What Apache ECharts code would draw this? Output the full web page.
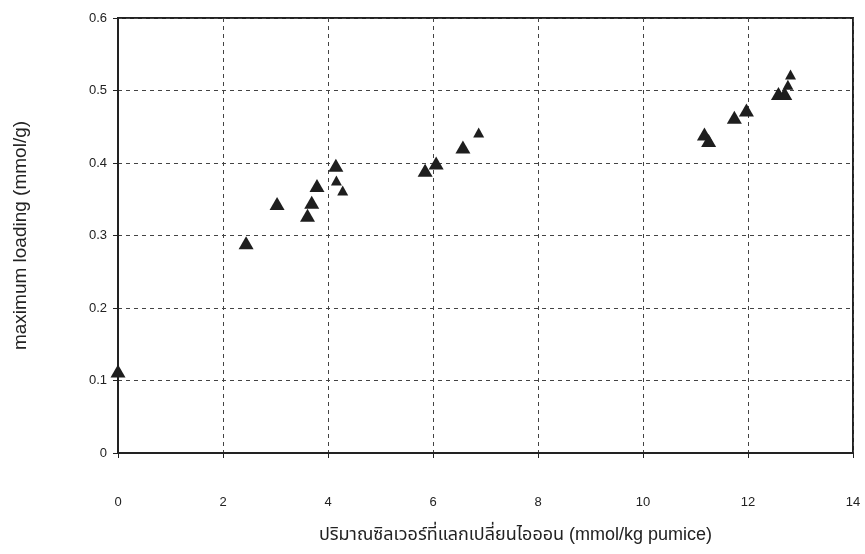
<!DOCTYPE html>
<html><head><meta charset="utf-8">
<script src="https://cdn.jsdelivr.net/npm/echarts@6/dist/echarts.min.js"></script>
<style>html,body{margin:0;padding:0;background:#fff}#c{width:865px;height:554px}</style>
</head><body><div id="c"></div>
<script>
// Silver exchanged (mmol/kg pumice) vs maximum loading (mmol/g)
const largeX = [0, 2.44, 3.03, 3.61, 3.69, 3.79, 4.15, 5.85, 6.06, 6.57, 11.17, 11.25, 11.74, 11.97, 12.58, 12.70];
const largeY = [0.113, 0.290, 0.344, 0.328, 0.346, 0.369, 0.397, 0.390, 0.400, 0.422, 0.440, 0.431, 0.463, 0.473, 0.496, 0.496];
const smallX = [4.16, 4.28, 6.87, 12.76, 12.81];
const smallY = [0.376, 0.362, 0.442, 0.508, 0.522];
const xTicks = [0, 2, 4, 6, 8, 10, 12, 14];
const yTicks = [0, 0.1, 0.2, 0.3, 0.4, 0.5, 0.6];
const xName = 'ปริมาณซิลเวอร์ที่แลกเปลี่ยนไอออน (mmol/kg pumice)';
const yName = 'maximum loading (mmol/g)';

const pairs = (xs, ys) => xs.map((x, i) => [x, ys[i]]);
const font = 'Arial, "Liberation Sans", "Noto Sans Thai", "Noto Sans", sans-serif';

const chart = echarts.init(document.getElementById('c'));
chart.setOption({
  animation: false,
  grid: { left: 118, right: 12, top: 18, bottom: 101, show: true, borderColor: '#222', borderWidth: 2, backgroundColor: '#fff' },
  xAxis: {
    type: 'value', min: xTicks[0], max: xTicks[xTicks.length - 1], interval: 2,
    name: xName, nameLocation: 'middle', nameGap: 73,
    nameTextStyle: { fontFamily: font, fontSize: 18, color: '#222', padding: [0, 0, 0, 60] },
    axisLine: { lineStyle: { color: '#222', width: 2 } },
    axisTick: { show: true, length: 5, lineStyle: { color: '#222' } },
    axisLabel: { margin: 43, fontFamily: font, fontSize: 13, color: '#222' },
    splitLine: { show: true, lineStyle: { color: '#444', type: [4, 4], width: 1 } }
  },
  yAxis: {
    type: 'value', min: yTicks[0], max: yTicks[yTicks.length - 1], interval: 0.1,
    name: yName, nameLocation: 'middle', nameGap: 88,
    nameTextStyle: { fontFamily: font, fontSize: 19, color: '#222' },
    axisLine: { lineStyle: { color: '#222', width: 2 } },
    axisTick: { show: true, length: 5, lineStyle: { color: '#222' } },
    axisLabel: { margin: 11, fontFamily: font, fontSize: 13, color: '#222', formatter: v => String(+v.toFixed(1)) },
    splitLine: { show: true, lineStyle: { color: '#444', type: [4, 4], width: 1 } }
  },
  series: [
    { type: 'scatter', data: pairs(largeX, largeY), symbol: 'triangle', symbolSize: [15, 13],
      itemStyle: { color: '#1e1e1e', opacity: 1 } },
    { type: 'scatter', data: pairs(smallX, smallY), symbol: 'triangle', symbolSize: [11, 10],
      itemStyle: { color: '#1e1e1e', opacity: 1 } }
  ]
});
</script></body></html>
